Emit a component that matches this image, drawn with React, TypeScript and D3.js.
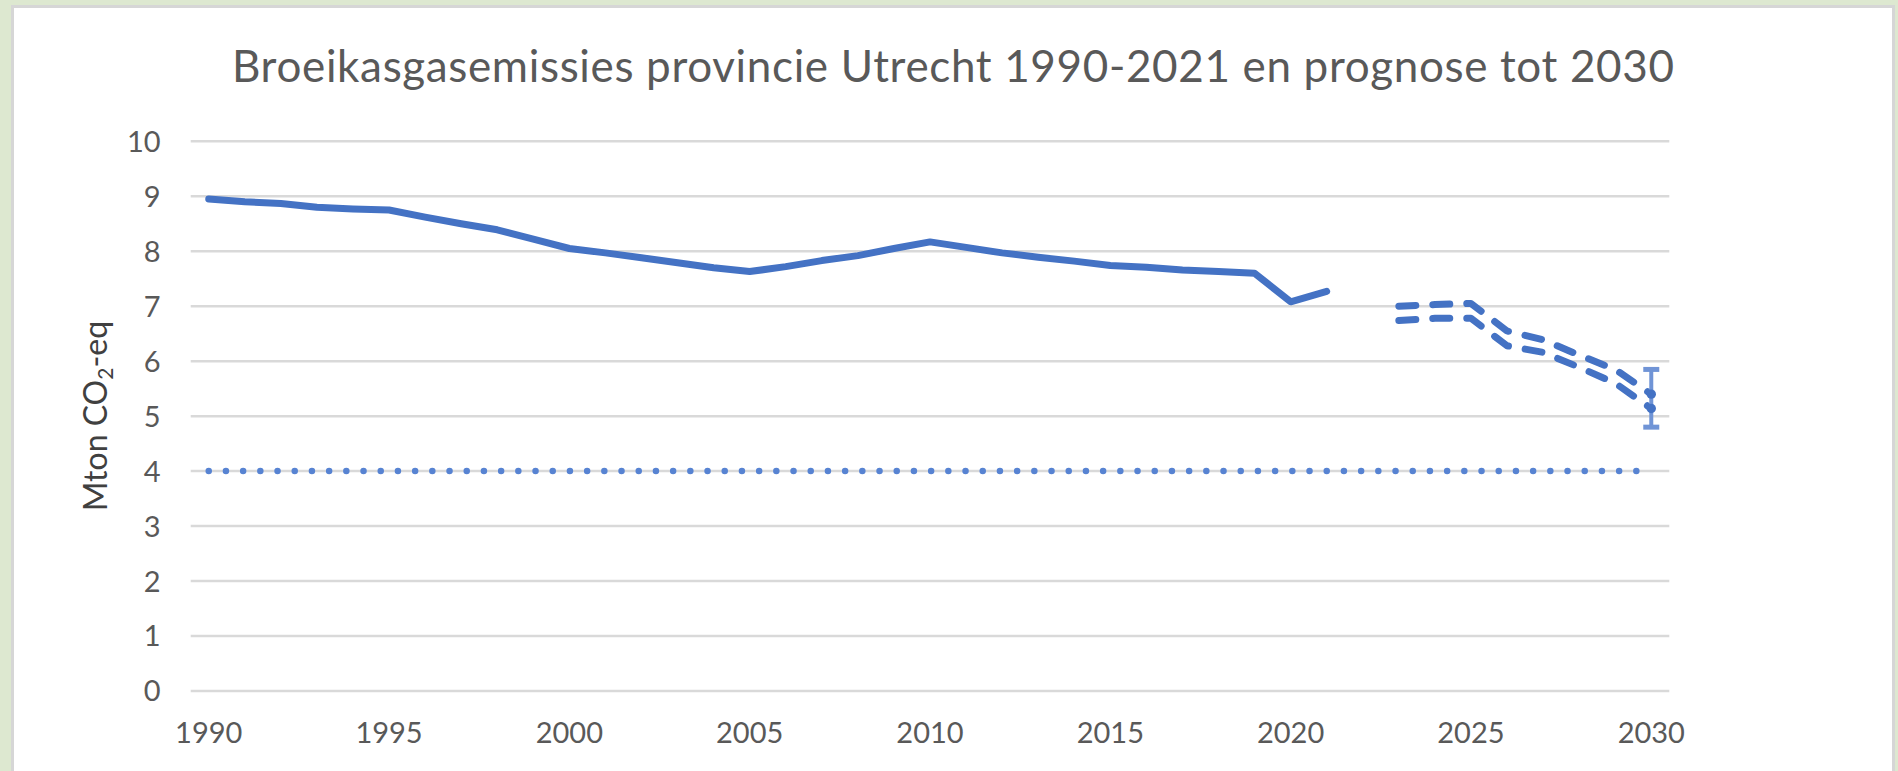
import { useEffect, useRef } from "react";
import * as d3 from "d3";

const years = [
  1990, 1991, 1992, 1993, 1994, 1995, 1996, 1997, 1998, 1999, 2000, 2001, 2002,
  2003, 2004, 2005, 2006, 2007, 2008, 2009, 2010, 2011, 2012, 2013, 2014, 2015,
  2016, 2017, 2018, 2019, 2020, 2021, 2022, 2023, 2024, 2025, 2026, 2027, 2028,
  2029, 2030,
];
const xTickLabels = ["1990", "1995", "2000", "2005", "2010", "2015", "2020", "2025", "2030"];
const yTicks = [0, 1, 2, 3, 4, 5, 6, 7, 8, 9, 10];

// Mton CO2-eq, 1990-2021
const historicYears = years.slice(0, 32);
const historic = [
  8.95, 8.9, 8.87, 8.8, 8.77, 8.75, 8.62, 8.5, 8.39, 8.22, 8.05, 7.97, 7.88,
  7.79, 7.7, 7.63, 7.72, 7.83, 7.92, 8.05, 8.17, 8.07, 7.97, 7.89, 7.82, 7.74,
  7.71, 7.66, 7.63, 7.6, 7.08, 7.27,
];

// prognose 2023-2030
const forecastYears = [2023, 2024, 2025, 2026, 2027, 2028, 2029, 2030];
const forecastHigh = [7.0, 7.03, 7.05, 6.55, 6.39, 6.11, 5.85, 5.4];
const forecastLow = [6.74, 6.78, 6.78, 6.28, 6.16, 5.89, 5.6, 5.14];

// doel
const targetValue = 4.0;

// foutmarge 2030
const errorYear = 2030;
const errorRange = [4.8, 5.85];

const W = 1898;
const H = 771;
const BLUE = "#4472C4";
const TEXT = "#595959";
const FONT = "Lato, 'Open Sans', sans-serif";

export default function App() {
  const svgRef = useRef<SVGSVGElement | null>(null);

  useEffect(() => {
    document.body.style.margin = "0";
    const svg = d3.select(svgRef.current);
    svg.selectAll("*").remove();

    // frame
    svg.append("rect").attr("width", W).attr("height", H).attr("fill", "#dde8d0");
    svg
      .append("rect")
      .attr("x", 12.5)
      .attr("y", 6.5)
      .attr("width", 1881)
      .attr("height", H)
      .attr("fill", "#fff")
      .attr("stroke", "#d6d6d6")
      .attr("stroke-width", 3);

    const x = d3
      .scalePoint<number>()
      .domain(years)
      .range([190.7, 1669.3])
      .padding(0.5);
    const y = d3.scaleLinear().domain([0, 10]).range([691, 141.3]);

    // grid
    svg
      .append("g")
      .selectAll("line")
      .data(yTicks)
      .join("line")
      .attr("x1", 190.7)
      .attr("x2", 1669.3)
      .attr("y1", (d) => y(d))
      .attr("y2", (d) => y(d))
      .attr("stroke", "#d9d9d9")
      .attr("stroke-width", 2.5);

    // y labels
    svg
      .append("g")
      .selectAll("text")
      .data(yTicks)
      .join("text")
      .attr("x", 160.7)
      .attr("y", (d) => y(d))
      .attr("dy", "0.36em")
      .attr("text-anchor", "end")
      .attr("font-family", FONT)
      .attr("font-size", 29)
      .attr("fill", TEXT)
      .text((d) => d);

    // x labels
    svg
      .append("g")
      .selectAll("text")
      .data(xTickLabels)
      .join("text")
      .attr("x", (d) => x(+d)!)
      .attr("y", 742.7)
      .attr("text-anchor", "middle")
      .attr("font-family", FONT)
      .attr("font-size", 29)
      .attr("fill", TEXT)
      .text((d) => d);

    // title
    svg
      .append("text")
      .attr("x", 953)
      .attr("y", 82)
      .attr("text-anchor", "middle")
      .attr("font-family", FONT)
      .attr("font-size", 44)
      .attr("fill", TEXT)
      .attr("textLength", 1442)
      .text("Broeikasgasemissies provincie Utrecht 1990-2021 en prognose tot 2030");

    // y axis title
    const yt = svg
      .append("text")
      .attr("transform", "translate(107,416) rotate(-90)")
      .attr("text-anchor", "middle")
      .attr("font-family", FONT)
      .attr("font-size", 32)
      .attr("fill", "#404040");
    yt.append("tspan").text("Mton CO");
    yt.append("tspan").attr("font-size", 21).attr("dy", 6).text("2");
    yt.append("tspan").attr("dy", -6).text("-eq");

    const line = d3
      .line<[number, number]>()
      .x((d) => x(d[0])!)
      .y((d) => y(d[1]));

    // target (dotted)
    svg
      .append("path")
      .datum([
        [years[0], targetValue],
        [years[years.length - 1], targetValue],
      ] as [number, number][])
      .attr("fill", "none")
      .attr("stroke", "#5783d2")
      .attr("stroke-width", 6.5)
      .attr("stroke-linecap", "round")
      .attr("stroke-dasharray", "0 17.2")
      .attr("d", line);

    // historic
    svg
      .append("path")
      .datum(historicYears.map((yr, i) => [yr, historic[i]] as [number, number]))
      .attr("fill", "none")
      .attr("stroke", BLUE)
      .attr("stroke-width", 7)
      .attr("stroke-linejoin", "round")
      .attr("stroke-linecap", "round")
      .attr("d", line);

    // forecasts (dashed)
    [forecastHigh, forecastLow].forEach((vals) => {
      svg
        .append("path")
        .datum(forecastYears.map((yr, i) => [yr, vals[i]] as [number, number]))
        .attr("fill", "none")
        .attr("stroke", BLUE)
        .attr("stroke-width", 7)
        .attr("stroke-linejoin", "round")
        .attr("stroke-linecap", "round")
        .attr("stroke-dasharray", "17 17")
        .attr("d", line);
    });

    // error bar 2030
    const ex = x(errorYear)!;
    const eb = svg.append("g").attr("stroke", "#7094d6").attr("stroke-width", 4);
    eb.append("line")
      .attr("x1", ex)
      .attr("x2", ex)
      .attr("y1", y(errorRange[0]))
      .attr("y2", y(errorRange[1]));
    errorRange.forEach((v) => {
      eb.append("line")
        .attr("x1", ex - 8)
        .attr("x2", ex + 8)
        .attr("y1", y(v))
        .attr("y2", y(v))
        .attr("stroke-width", 5);
    });

    // end points 2030
    svg
      .append("g")
      .selectAll("circle")
      .data([forecastHigh[forecastHigh.length - 1], forecastLow[forecastLow.length - 1]])
      .join("circle")
      .attr("cx", ex)
      .attr("cy", (d) => y(d))
      .attr("r", 4.7)
      .attr("fill", BLUE);
  }, []);

  return <svg ref={svgRef} width={W} height={H} style={{ display: "block" }} />;
}
